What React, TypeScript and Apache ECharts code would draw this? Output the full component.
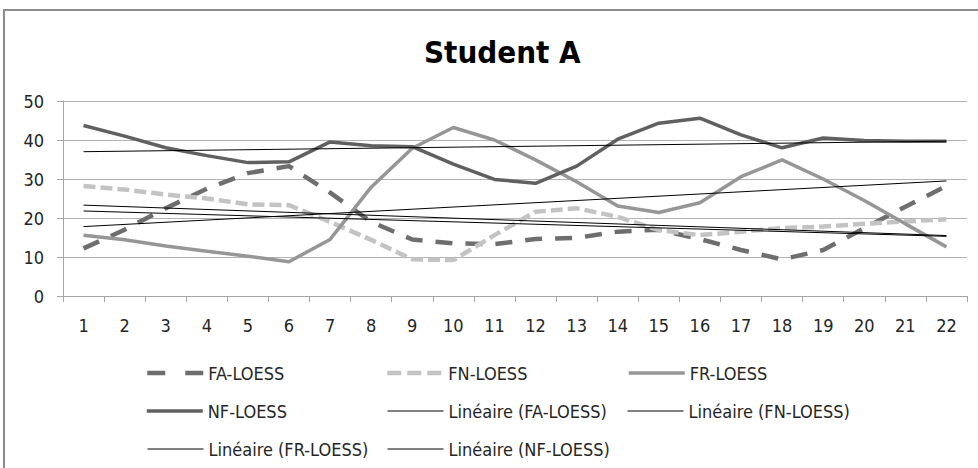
import React, { useEffect, useRef } from "react";
import * as echarts from "echarts";

const categories = ["1","2","3","4","5","6","7","8","9","10","11","12","13","14","15","16","17","18","19","20","21","22"];

const faLoess = [12.2, 17.0, 22.5, 27.5, 31.5, 33.3, 26.5, 19.0, 14.5, 13.5, 13.3, 14.6, 14.9, 16.5, 17.0, 14.6, 11.8, 9.4, 11.8, 17.4, 22.9, 28.2];
const fnLoess = [28.2, 27.3, 26.0, 25.0, 23.5, 23.3, 19.0, 14.4, 9.4, 9.2, 15.6, 21.6, 22.5, 20.3, 16.9, 15.6, 16.5, 17.4, 17.8, 18.5, 19.1, 19.7];
const frLoess = [15.6, 14.4, 12.8, 11.5, 10.2, 8.8, 14.5, 27.9, 37.9, 43.2, 40.0, 34.9, 29.3, 23.1, 21.4, 23.9, 30.6, 34.9, 30.0, 24.5, 18.5, 12.6];
const nfLoess = [43.7, 41.0, 38.0, 36.0, 34.2, 34.4, 39.5, 38.5, 38.3, 33.8, 29.9, 28.9, 33.3, 40.2, 44.3, 45.6, 41.3, 38.0, 40.5, 39.9, 39.7, 39.7];

// trendline end values (first category, last category)
const faTrend = [21.8, 15.3];
const fnTrend = [23.3, 15.5];
const frTrend = [17.8, 29.5];
const nfTrend = [37.0, 39.7];

const yTicks = [0, 10, 20, 30, 40, 50];

const FONT = "'DejaVu Sans Condensed', 'DejaVu Sans', sans-serif";

function trendData(t: number[]) {
  return categories.map((_, i) => (i === 0 ? t[0] : i === categories.length - 1 ? t[1] : null));
}

const STY: Record<string, { color: string; width: number; type: any }> = {
  "FA-LOESS": { color: "#6e6e6e", width: 4.5, type: [17, 13] },
  "FN-LOESS": { color: "#c3c3c3", width: 4.5, type: [12, 5] },
  "FR-LOESS": { color: "#969696", width: 3.5, type: "solid" },
  "NF-LOESS": { color: "#606060", width: 3.5, type: "solid" },
  "Linéaire (FA-LOESS)": { color: "#000", width: 1, type: "solid" },
  "Linéaire (FN-LOESS)": { color: "#000", width: 1, type: "solid" },
  "Linéaire (FR-LOESS)": { color: "#000", width: 1, type: "solid" },
  "Linéaire (NF-LOESS)": { color: "#000", width: 1, type: "solid" },
};

const LEGEND_DASH: Record<string, any> = {
  "FA-LOESS": [18, 20],
  "FN-LOESS": [14, 6],
};

export default function App() {
  const ref = useRef<HTMLDivElement>(null);
  useEffect(() => {
    if (!ref.current) return;
    const chart = echarts.init(ref.current, null, { renderer: "svg" });
    const lineSeries = (name: string, data: any[]) => ({
      name,
      type: "line",
      data,
      symbol: "none",
      connectNulls: true,
      lineStyle: { color: STY[name].color, width: STY[name].width, type: STY[name].type },
      itemStyle: { color: STY[name].color },
      emphasis: { disabled: true },
    });
    const legendTextStyle = { fontFamily: FONT, fontSize: 18, color: "#262626" };
    const legendAt = (name: string, left: number, top: number) => ({
      data: [name],
      left,
      top,
      padding: 0,
      itemWidth: 56,
      itemHeight: 14,
      itemGap: 0,
      textStyle: legendTextStyle,
      selectedMode: false,
      itemStyle: { opacity: 0 },
      lineStyle: {
        color: STY[name].color,
        width: STY[name].width,
        type: LEGEND_DASH[name] || STY[name].type,
        cap: "butt",
      },
    });
    chart.setOption({
      animation: false,
      title: {
        text: "Student A",
        left: 419,
        top: 31,
        textStyle: { fontFamily: FONT, fontSize: 31, fontWeight: "bold", color: "#000" },
      },
      grid: { left: 63, right: 11, top: 101, bottom: 172 },
      xAxis: {
        type: "category",
        data: categories,
        boundaryGap: true,
        axisLine: { lineStyle: { color: "#a6a6a6", width: 1 } },
        axisTick: { show: true, length: 6, lineStyle: { color: "#a6a6a6" } },
        axisLabel: { fontFamily: FONT, fontSize: 18, color: "#262626", margin: 20 },
        splitLine: { show: false },
      },
      yAxis: {
        type: "value",
        min: yTicks[0],
        max: yTicks[yTicks.length - 1],
        interval: 10,
        axisLine: { show: true, lineStyle: { color: "#a6a6a6", width: 1 } },
        axisTick: { show: true, length: 6, lineStyle: { color: "#a6a6a6" } },
        axisLabel: { fontFamily: FONT, fontSize: 18, color: "#262626", margin: 19 },
        splitLine: { show: true, lineStyle: { color: "#b3b3b3", width: 1 } },
      },
      legend: [
        legendAt("FA-LOESS", 145, 364),
        legendAt("FN-LOESS", 385, 364),
        legendAt("FR-LOESS", 627, 364),
        legendAt("NF-LOESS", 145, 402),
        legendAt("Linéaire (FA-LOESS)", 387, 402),
        legendAt("Linéaire (FN-LOESS)", 627, 402),
        legendAt("Linéaire (FR-LOESS)", 147, 440),
        legendAt("Linéaire (NF-LOESS)", 387, 440),
      ],
      series: [
        lineSeries("FA-LOESS", faLoess),
        lineSeries("FN-LOESS", fnLoess),
        lineSeries("FR-LOESS", frLoess),
        lineSeries("NF-LOESS", nfLoess),
        lineSeries("Linéaire (FA-LOESS)", trendData(faTrend)),
        lineSeries("Linéaire (FN-LOESS)", trendData(fnTrend)),
        lineSeries("Linéaire (FR-LOESS)", trendData(frTrend)),
        lineSeries("Linéaire (NF-LOESS)", trendData(nfTrend)),
      ],
      graphic: [
        {
          type: "rect",
          shape: { x: 4, y: 10, width: 990, height: 480 },
          style: { fill: "none", stroke: "#8c8c8c", lineWidth: 2 },
          silent: true,
        },
      ],
    });
    return () => chart.dispose();
  }, []);
  return (
    <div
      ref={ref}
      style={{ position: "fixed", left: 0, top: 0, width: 978, height: 468, background: "#fff" }}
    />
  );
}
